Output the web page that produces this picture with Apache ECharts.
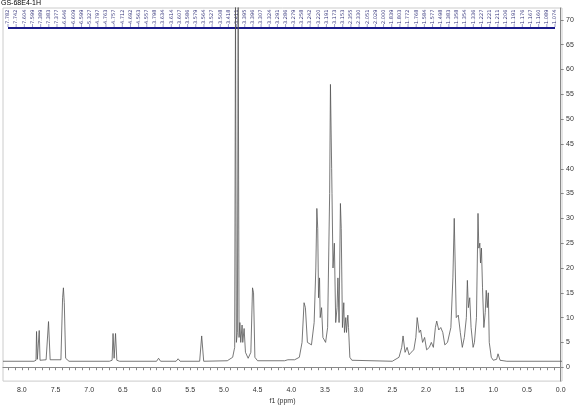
<!DOCTYPE html>
<html><head><meta charset="utf-8">
<script src="https://cdn.jsdelivr.net/npm/echarts@6/dist/echarts.min.js"></script>
<style>html,body{margin:0;padding:0;background:#fff}#c{width:588px;height:410px}</style>
</head><body><div id="c"></div>
<script>
const title = "GS-68E4-1H";
const xTicks = [8.0,7.5,7.0,6.5,6.0,5.5,5.0,4.5,4.0,3.5,3.0,2.5,2.0,1.5,1.0,0.5,0.0];
const yTicks = [0,5,10,15,20,25,30,35,40,45,50,55,60,65,70];
const peakLabels = ["7.782","7.742","7.604","7.599","7.389","7.383","7.377","6.646","6.609","6.599","5.327","4.797","4.763","4.757","4.712","4.692","4.563","4.557","3.798","3.634","3.614","3.607","3.586","3.579","3.564","3.527","3.508","3.418","3.411","3.395","3.396","3.307","3.324","3.291","3.286","3.279","3.258","3.242","3.220","3.191","3.173","3.153","2.355","2.330","2.051","2.029","2.000","1.839","1.803","1.772","1.768","1.584","1.577","1.498","1.383","1.358","1.354","1.336","1.227","1.221","1.211","1.206","1.191","1.176","1.167","1.160","1.089","1.074"];
const spectrum = [
[8.28,1.2],[7.82,1.2],[7.79,1.4],[7.782,7.2],[7.77,1.6],[7.75,1.6],[7.742,7.4],[7.73,1.4],[7.64,1.5],[7.604,9.2],[7.58,1.5],
[7.42,1.5],[7.395,14],[7.383,16],[7.37,13],[7.35,1.8],[7.33,1.6],[7.30,1.2],[6.70,1.2],[6.66,1.4],[6.646,6.8],[6.63,1.8],[6.609,6.8],[6.59,1.4],[6.55,1.2],
[6.00,1.2],[5.97,1.8],[5.94,1.2],[5.71,1.2],[5.68,1.7],[5.65,1.2],[5.36,1.2],[5.33,6.3],[5.30,1.2],[4.95,1.3],[4.87,2],
[4.84,4],[4.828,73],[4.815,5],[4.80,7],[4.788,73],[4.775,6],[4.763,9],[4.75,5],[4.73,8.5],[4.72,5],[4.70,7.8],[4.68,3],[4.64,1.8],
[4.60,3],[4.575,16],[4.56,15],[4.54,2],[4.50,1.3],[4.10,1.3],[4.05,1.5],[3.95,1.5],[3.88,2],[3.84,5],[3.81,13],[3.79,12],[3.76,5],[3.70,4.5],
[3.66,9],[3.635,20],[3.62,32],[3.607,28],[3.595,14],[3.58,18],[3.57,10],[3.55,12],[3.53,6],[3.49,5],[3.46,8],
[3.43,35],[3.418,57],[3.40,40],[3.395,35],[3.38,20],[3.36,25],[3.34,9],[3.32,12],[3.307,18],[3.29,9],[3.27,33],[3.258,28],[3.24,8],[3.22,13],[3.21,7],
[3.19,10],[3.18,7],[3.16,10.5],[3.15,8],[3.13,2],[3.10,1.4],[2.50,1.2],[2.40,2],[2.36,4],[2.34,6.3],[2.31,3],[2.28,4],[2.25,2.5],[2.22,3],[2.18,3.5],
[2.15,6],[2.13,10],[2.10,7],[2.08,7.5],[2.05,5],[2.02,6],[1.99,3.5],[1.95,4],[1.92,5],[1.89,4],[1.86,8],[1.84,9.3],[1.81,7.5],[1.78,8],[1.75,7],[1.72,4.5],[1.68,5],
[1.63,8],[1.60,18],[1.58,30],[1.565,20],[1.55,10],[1.52,10.5],[1.49,7],[1.46,4],[1.43,6],[1.40,10],[1.385,17.5],[1.37,12],[1.35,14],[1.33,8],[1.30,4],[1.28,5],
[1.25,10],[1.227,31],[1.215,24],[1.20,25],[1.19,21],[1.176,24],[1.16,16],[1.14,8],[1.12,11],[1.105,15.5],[1.09,12],[1.074,15],[1.06,5],[1.03,2],
[1.00,1.4],[0.95,1.6],[0.93,2.7],[0.90,1.4],[0.80,1.2],[0.0,1.2],[-0.02,1.2]
];
const xMinor=[]; for(let i=0;i<=82;i++) xMinor.push(+(i*0.1).toFixed(1));
const chart = echarts.init(document.getElementById('c'));
const L=8, R=555, n=peakLabels.length;
const graphics=[{type:'text',left:1,top:0,style:{text:title,font:'7px "Liberation Sans"',fill:'#000'}}];
peakLabels.forEach((t,i)=>{
  const x=L+(R-L)*i/(n-1);
  graphics.push({type:'text',x:x,y:24,rotation:Math.PI/2,style:{text:t,font:'5px "DejaVu Sans"',fill:'#33337a',align:'left',verticalAlign:'middle'}});
  graphics.push({type:'line',shape:{x1:x,y1:24,x2:x,y2:27},style:{stroke:'#3a3a9a',lineWidth:0.5}});
});
graphics.push({type:'line',shape:{x1:L,y1:28,x2:R,y2:28},style:{stroke:'#1a1a8a',lineWidth:2}});
chart.setOption({
  animation:false,
  graphic:graphics,
  grid:{left:3,right:26,top:8,bottom:28,show:true,borderColor:'#ccc'},
  xAxis:{type:'value',inverse:true,min:-0.02,max:8.28,
    name:'f1 (ppm)',nameLocation:'middle',nameGap:14,nameTextStyle:{fontSize:7,color:'#333'},
    axisLine:{lineStyle:{color:'#888'}},
    axisTick:{length:3,customValues:xMinor,lineStyle:{color:'#888'}},
    axisLabel:{fontSize:7,color:'#333',margin:5,customValues:xTicks,formatter:v=>v.toFixed(1)},splitLine:{show:false}},
  yAxis:{type:'value',position:'right',min:-2.8,max:72.4,
    axisLine:{show:true,lineStyle:{color:'#888'}},axisTick:{show:true,length:3,customValues:yTicks},
    axisLabel:{fontSize:7,color:'#333',margin:4,customValues:yTicks},splitLine:{show:false}},
  series:[{type:'line',data:spectrum,showSymbol:false,lineStyle:{color:'#555',width:0.8},clip:true}]
});
</script></body></html>
